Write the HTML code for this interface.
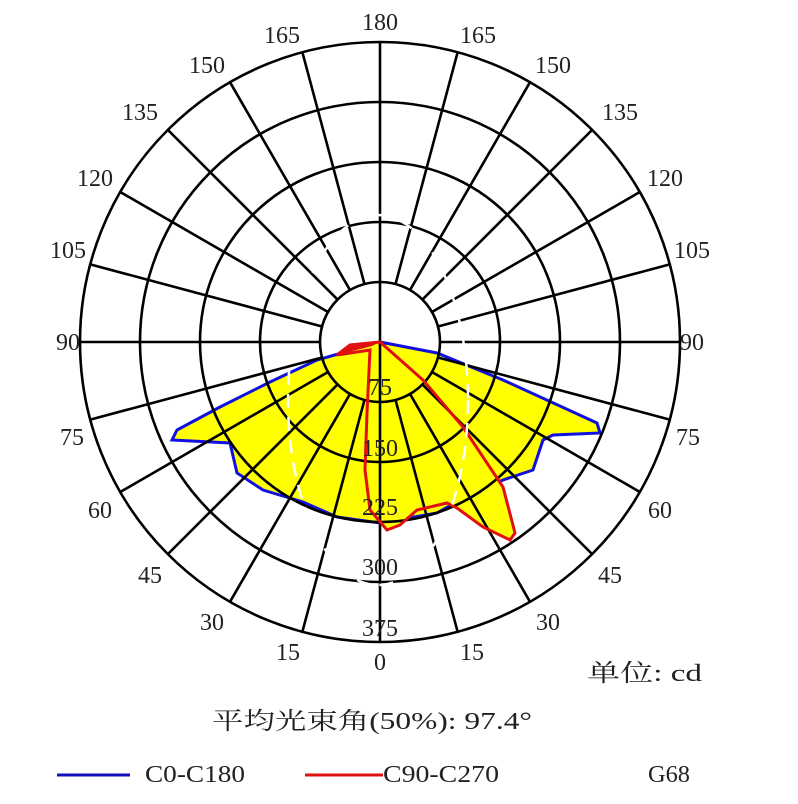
<!DOCTYPE html>
<html><head><meta charset="utf-8"><style>
html,body{margin:0;padding:0;background:#fff;width:798px;height:804px;overflow:hidden}
svg text{font-family:"Liberation Serif","Noto Serif CJK SC",serif;fill:#222}
</style></head><body>
<svg id="s" width="798" height="804" viewBox="0 0 798 804" xmlns="http://www.w3.org/2000/svg">
<g id="data">
<path d="M380,342 L317,360 L270,382 L220,407 L177,430 L172,440 L230,443 L237,473 L263,490 L303,502 L337,517 L380,523 L437,513 L460,500 L503,480 L533,470 L543,440 L553,435 L600,433 L597,423 L503,380 L437,353 Z" fill="#ffff00" stroke="#1010e0" stroke-width="3"/>
<path d="M380,342 L350,345 L337,355 L370,350 L367,413 L365,470 L370,510 L387,530 L400,525 L417,510 L447,503 L457,508 L483,527 L510,540 L515,533 L503,487 L463,427 L423,380 Z" fill="#ffff00" stroke="none"/>
</g>
<g id="grid2" stroke="#000" stroke-width="2.6" fill="none"></g>
<path d="M380,342 L350,345 L337,355 L370,350 L367,413 L365,470 L370,510 L387,530 L400,525 L417,510 L447,503 L457,508 L483,527 L510,540 L515,533 L503,487 L463,427 L423,380 Z" fill="none" stroke="#e01010" stroke-width="3"/>
<path d="M380,342 L350,345 L337,355 L372,346 Z" fill="#e01010"/>
<ellipse cx="378" cy="400" rx="90" ry="185" fill="none" stroke="#fff" stroke-width="2.5" stroke-dasharray="14 9"/>
<g id="lab" font-size="24" text-anchor="middle"></g>
<g font-size="24" text-anchor="middle">
<text x="380" y="395">75</text>
<text x="380" y="456">150</text>
<text x="380" y="515">225</text>
<text x="380" y="575">300</text>
<text x="380" y="636">375</text>
</g>
<text x="587" y="681" font-size="24" textLength="115" lengthAdjust="spacingAndGlyphs">单位: cd</text>
<text x="212" y="729" font-size="24" textLength="320" lengthAdjust="spacingAndGlyphs">平均光束角(50%): 97.4°</text>
<line x1="57" y1="775" x2="130" y2="775" stroke="#1010c0" stroke-width="3"/>
<text x="145" y="782" font-size="24" textLength="100" lengthAdjust="spacingAndGlyphs">C0-C180</text>
<line x1="305" y1="775" x2="383" y2="775" stroke="#e01010" stroke-width="3"/>
<text x="383" y="782" font-size="24" textLength="116" lengthAdjust="spacingAndGlyphs">C90-C270</text>
<text x="648" y="782" font-size="24" textLength="42" lengthAdjust="spacingAndGlyphs">G68</text>
</svg>
<script>
var NS="http://www.w3.org/2000/svg",cx=380,cy=342,g=document.getElementById('grid2'),lab=document.getElementById('lab');
function el(p,t,a){var e=document.createElementNS(NS,t);for(var k in a)e.setAttribute(k,a[k]);p.appendChild(e);return e;}
[60,120,180,240,300].forEach(function(r){el(g,'circle',{cx:cx,cy:cy,r:r});});
el(g,'line',{x1:cx,y1:cy-300,x2:cx,y2:cy+300});
for(var a=15;a<180;a+=15){var t=a*Math.PI/180,r0=60;
 for(var s=-1;s<=1;s+=2){
  el(g,'line',{x1:cx+s*r0*Math.sin(t),y1:cy+r0*Math.cos(t),x2:cx+s*300*Math.sin(t),y2:cy+300*Math.cos(t)});
 }}
var L=[[90,68,350],[75,72,445],[60,100,518],[45,150,583],[30,212,630],[15,288,660],[105,68,258],[120,95,186],[135,140,120],[150,207,73],[165,282,43]];
L.forEach(function(l){el(lab,'text',{x:l[1],y:l[2]}).textContent=l[0];el(lab,'text',{x:760-l[1],y:l[2]}).textContent=l[0];});
el(lab,'text',{x:380,y:670}).textContent='0';
el(lab,'text',{x:380,y:30}).textContent='180';
</script>
</body></html>
